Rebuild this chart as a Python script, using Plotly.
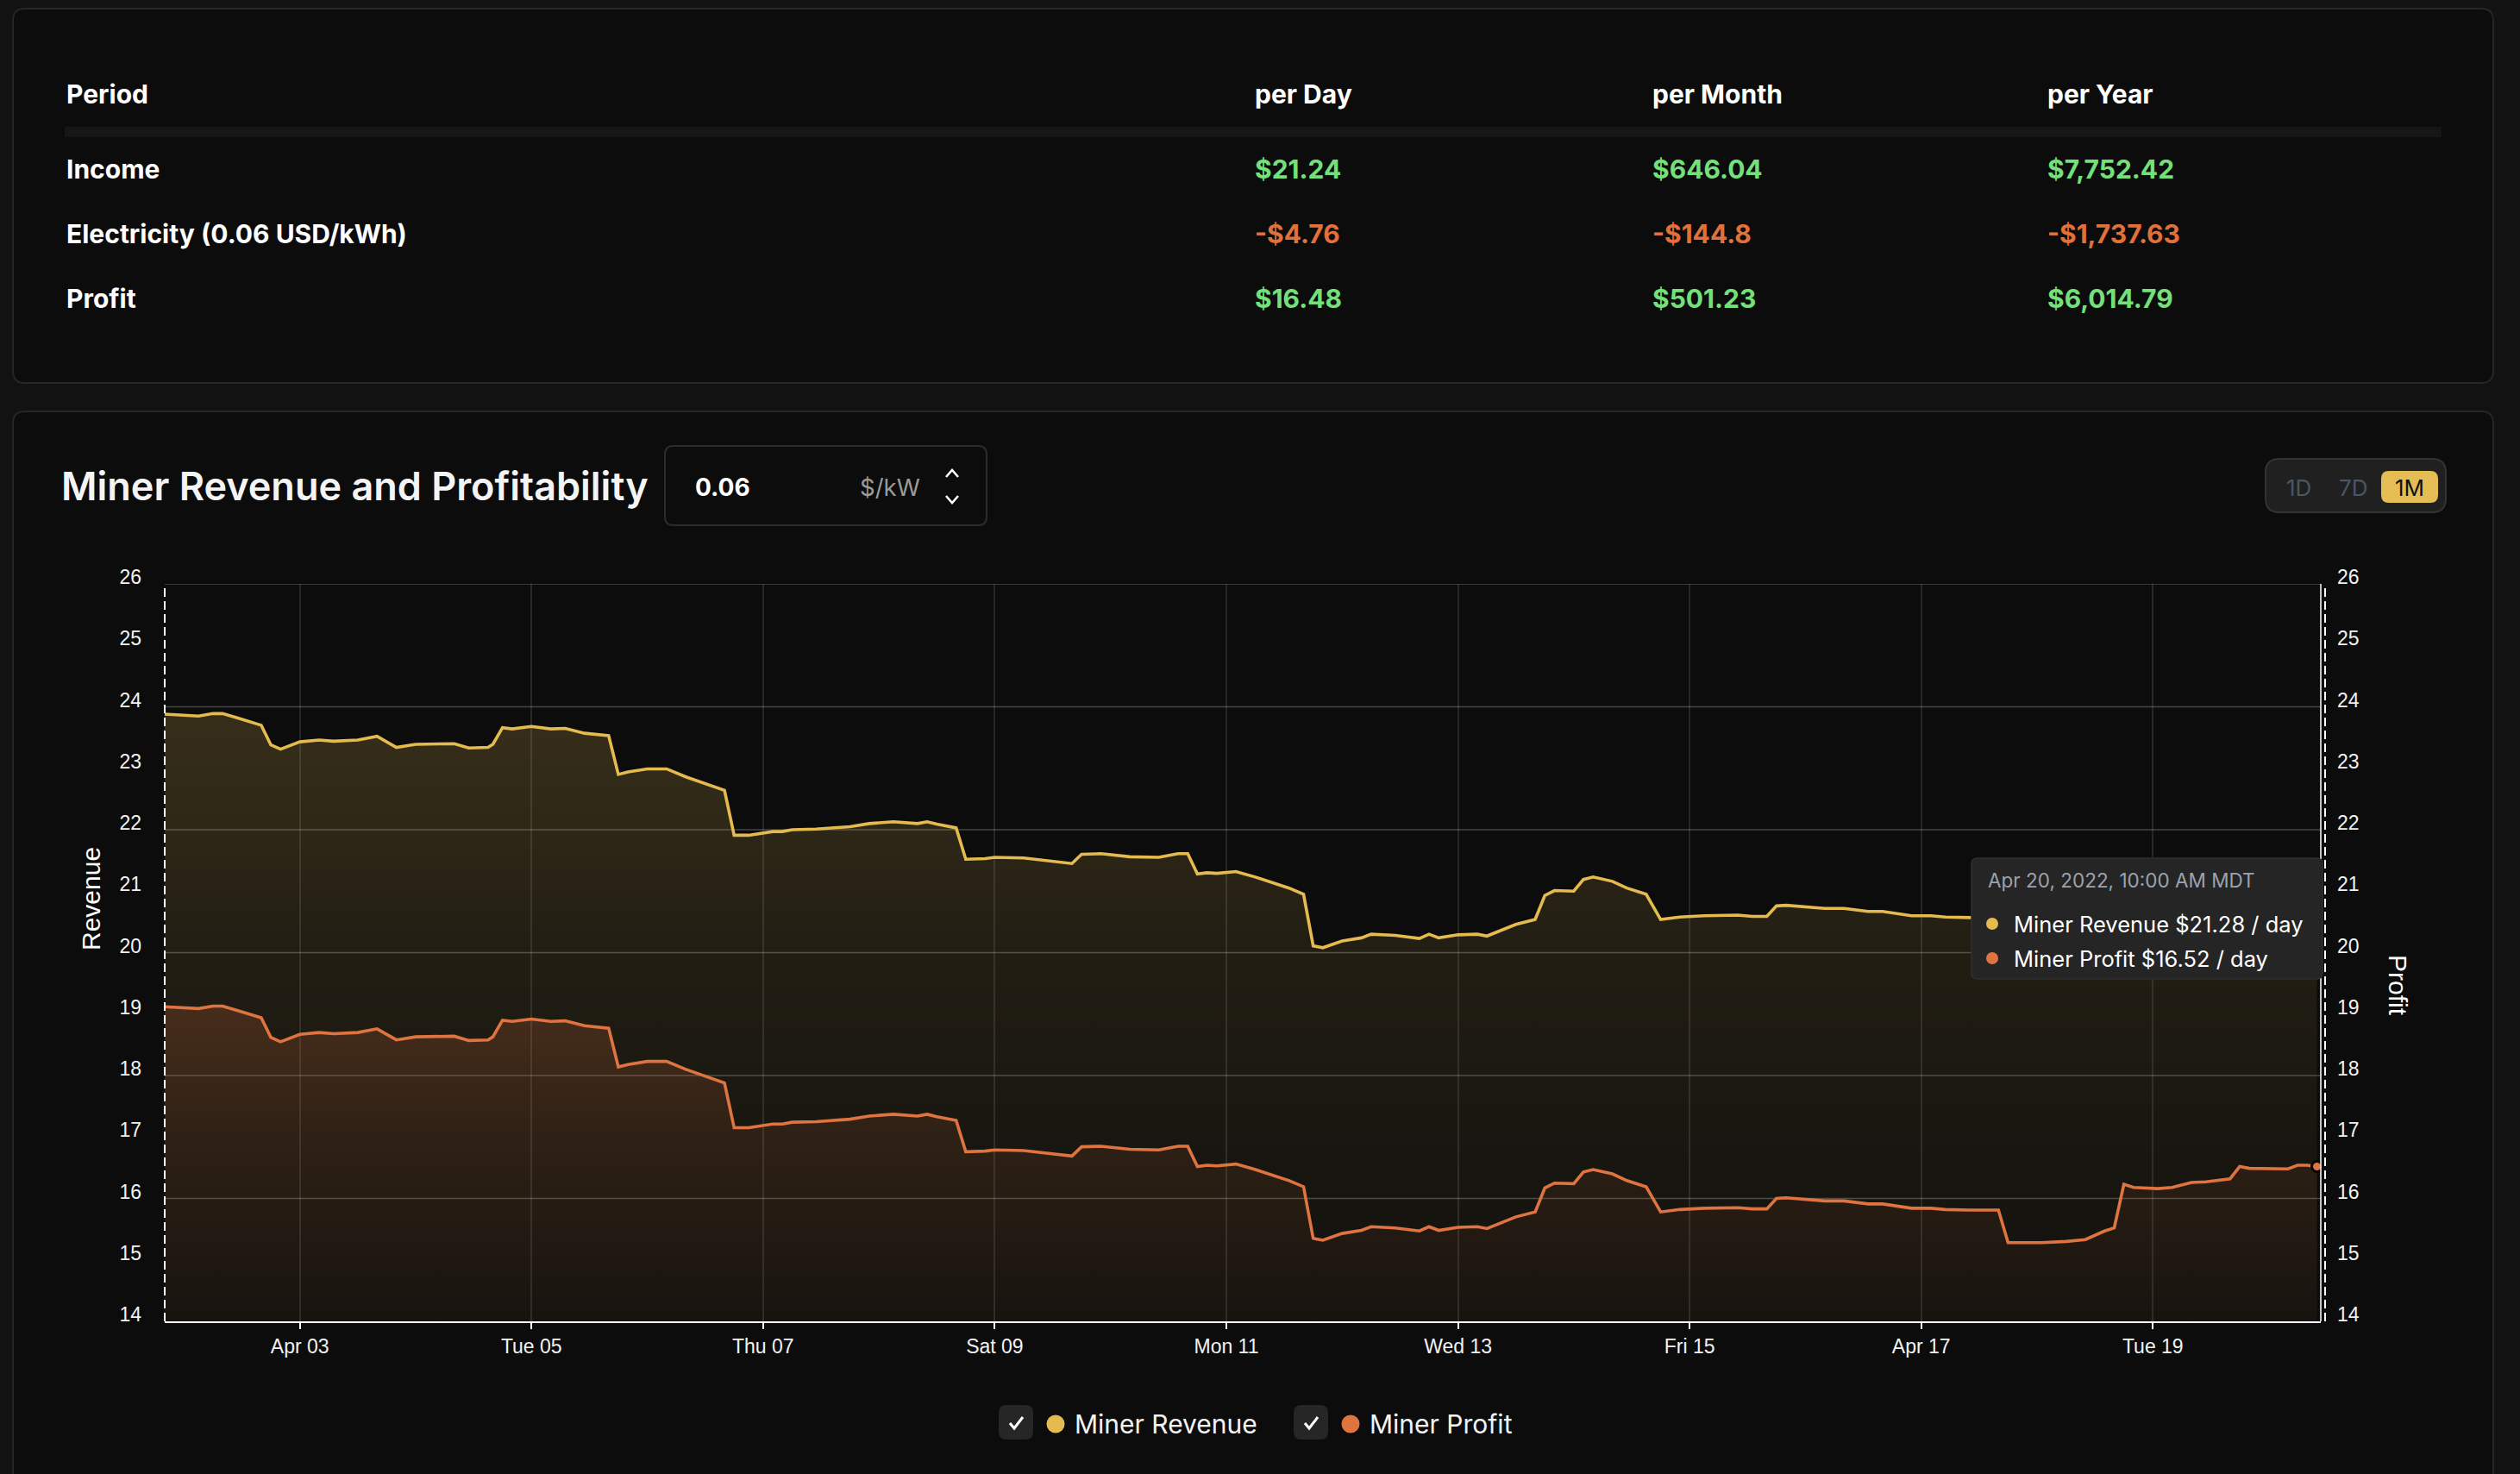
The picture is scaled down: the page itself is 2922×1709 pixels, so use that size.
import plotly.graph_objects as go
import pandas as pd

# ---------------- data ----------------
times = [
    "2022-04-01 20:00", "2022-04-02 03:00", "2022-04-02 06:00", "2022-04-02 08:00", "2022-04-02 11:00", "2022-04-02 16:00", "2022-04-02 18:00", "2022-04-02 20:00",
    "2022-04-03 00:00", "2022-04-03 04:00", "2022-04-03 07:00", "2022-04-03 12:00", "2022-04-03 16:00", "2022-04-03 20:00",
    "2022-04-04 00:00", "2022-04-04 05:00", "2022-04-04 08:00", "2022-04-04 11:00", "2022-04-04 15:00", "2022-04-04 16:00", "2022-04-04 18:00", "2022-04-04 20:00",
    "2022-04-05 00:00", "2022-04-05 04:00", "2022-04-05 07:00", "2022-04-05 11:00", "2022-04-05 16:00", "2022-04-05 18:00", "2022-04-05 20:00",
    "2022-04-06 00:00", "2022-04-06 04:00", "2022-04-06 08:00", "2022-04-06 12:00", "2022-04-06 16:00", "2022-04-06 18:00", "2022-04-06 21:00",
    "2022-04-07 02:00", "2022-04-07 04:00", "2022-04-07 06:00", "2022-04-07 11:00", "2022-04-07 18:00", "2022-04-07 22:00",
    "2022-04-08 03:00", "2022-04-08 08:00", "2022-04-08 10:00", "2022-04-08 12:00", "2022-04-08 16:00", "2022-04-08 18:00", "2022-04-08 22:00",
    "2022-04-09 00:00", "2022-04-09 06:00", "2022-04-09 10:00", "2022-04-09 16:00", "2022-04-09 18:00", "2022-04-09 22:00",
    "2022-04-10 04:00", "2022-04-10 10:00", "2022-04-10 14:00", "2022-04-10 16:00", "2022-04-10 18:00", "2022-04-10 20:00", "2022-04-10 22:00",
    "2022-04-11 02:00", "2022-04-11 06:00", "2022-04-11 11:00", "2022-04-11 13:00", "2022-04-11 16:00", "2022-04-11 18:00", "2022-04-11 20:00",
    "2022-04-12 00:00", "2022-04-12 04:00", "2022-04-12 06:00", "2022-04-12 11:00", "2022-04-12 15:00", "2022-04-12 16:00", "2022-04-12 18:00", "2022-04-12 20:00",
    "2022-04-13 00:00", "2022-04-13 04:00", "2022-04-13 06:00", "2022-04-13 12:00", "2022-04-13 16:00", "2022-04-13 18:00", "2022-04-13 20:00",
    "2022-04-14 00:00", "2022-04-14 02:00", "2022-04-14 04:00", "2022-04-14 08:00", "2022-04-14 11:00", "2022-04-14 15:00", "2022-04-14 18:00", "2022-04-14 22:00",
    "2022-04-15 03:00", "2022-04-15 10:00", "2022-04-15 13:00", "2022-04-15 16:00", "2022-04-15 18:00", "2022-04-15 20:00",
    "2022-04-16 04:00", "2022-04-16 08:00", "2022-04-16 13:00", "2022-04-16 16:00", "2022-04-16 22:00",
    "2022-04-17 02:00", "2022-04-17 05:00", "2022-04-17 10:00", "2022-04-17 16:00", "2022-04-17 18:00",
    "2022-04-18 01:00", "2022-04-18 06:00", "2022-04-18 10:00", "2022-04-18 14:00", "2022-04-18 16:00", "2022-04-18 18:00", "2022-04-18 20:00",
    "2022-04-19 01:00", "2022-04-19 04:00", "2022-04-19 08:00", "2022-04-19 11:00", "2022-04-19 16:00", "2022-04-19 18:00", "2022-04-19 20:00",
    "2022-04-20 00:00", "2022-04-20 04:00", "2022-04-20 06:00", "2022-04-20 08:00", "2022-04-20 10:00",
]

miner_revenue = [
    23.88, 23.85, 23.89, 23.89, 23.82, 23.70, 23.38, 23.31,
    23.43, 23.46, 23.44, 23.46, 23.52, 23.34,
    23.39, 23.39, 23.40, 23.33, 23.34, 23.39, 23.66, 23.64,
    23.68, 23.64, 23.65, 23.57, 23.53, 22.90, 22.94,
    22.99, 22.99, 22.86, 22.75, 22.64, 21.91, 21.91,
    21.97, 21.97, 22.00, 22.01, 22.05, 22.10,
    22.13, 22.10, 22.13, 22.09, 22.03, 21.52, 21.53,
    21.55, 21.54, 21.50, 21.45, 21.60, 21.61,
    21.56, 21.55, 21.61, 21.61, 21.28, 21.30, 21.29,
    21.32, 21.23, 21.11, 21.05, 20.95, 20.11, 20.08,
    20.19, 20.24, 20.30, 20.28, 20.23, 20.23, 20.30, 20.24,
    20.29, 20.30, 20.27, 20.46, 20.54, 20.93, 21.01,
    21.00, 21.19, 21.23, 21.16, 21.05, 20.95, 20.54, 20.58,
    20.60, 20.61, 20.59, 20.59, 20.76, 20.77,
    20.72, 20.72, 20.67, 20.67, 20.60,
    20.60, 20.58, 20.57, 20.57, 20.04,
    20.04, 20.06, 20.09, 20.23, 20.28, 20.99, 20.94,
    20.92, 20.94, 21.02, 21.03, 21.08, 21.28, 21.25,
    21.24, 21.24, 21.30, 21.30, 21.28,
]

miner_profit = [
    19.12, 19.09, 19.13, 19.13, 19.06, 18.94, 18.62, 18.55,
    18.67, 18.70, 18.68, 18.70, 18.76, 18.58,
    18.63, 18.63, 18.64, 18.57, 18.58, 18.63, 18.90, 18.88,
    18.92, 18.88, 18.89, 18.81, 18.77, 18.14, 18.18,
    18.23, 18.23, 18.10, 17.99, 17.88, 17.15, 17.15,
    17.21, 17.21, 17.24, 17.25, 17.29, 17.34,
    17.37, 17.34, 17.37, 17.33, 17.27, 16.76, 16.77,
    16.79, 16.78, 16.74, 16.69, 16.84, 16.85,
    16.80, 16.79, 16.85, 16.85, 16.52, 16.54, 16.53,
    16.56, 16.47, 16.35, 16.29, 16.19, 15.35, 15.32,
    15.43, 15.48, 15.54, 15.52, 15.47, 15.47, 15.54, 15.48,
    15.53, 15.54, 15.51, 15.70, 15.78, 16.17, 16.25,
    16.24, 16.43, 16.47, 16.40, 16.29, 16.19, 15.78, 15.82,
    15.84, 15.85, 15.83, 15.83, 16.00, 16.01,
    15.96, 15.96, 15.91, 15.91, 15.84,
    15.84, 15.82, 15.81, 15.81, 15.28,
    15.28, 15.30, 15.33, 15.47, 15.52, 16.23, 16.18,
    16.16, 16.18, 16.26, 16.27, 16.32, 16.52, 16.49,
    16.48, 16.48, 16.54, 16.54, 16.52,
]

x_tick_dates = ["2022-04-03", "2022-04-05", "2022-04-07", "2022-04-09", "2022-04-11",
                "2022-04-13", "2022-04-15", "2022-04-17", "2022-04-19"]
x_tick_labels = ["Apr 03", "Tue 05", "Thu 07", "Sat 09", "Mon 11", "Wed 13", "Fri 15", "Apr 17", "Tue 19"]
y_range = [14, 26]
y_grid_values = [16, 18, 20, 22, 24, 26]

table_columns = ["Period", "per Day", "per Month", "per Year"]
table_rows = ["Income", "Electricity (0.06 USD/kWh)", "Profit"]
table_values = [
    ["$21.24", "$646.04", "$7,752.42"],
    ["-$4.76", "-$144.8", "-$1,737.63"],
    ["$16.48", "$501.23", "$6,014.79"],
]
tooltip_time = "Apr 20, 2022, 10:00 AM MDT"
series_names = ["Miner Revenue", "Miner Profit"]

# ---------------- styling helpers ----------------
W, H = 2922, 1709
PL, PR, PT, PB = 191, 2691, 677, 1532
YEL = "#e5ba4f"
ORA = "#df7440"
GREEN = "#74e07a"
NEG = "#e2703a"
INTER = "Inter, Noto Sans, sans-serif"
ARIAL = "Liberation Sans, Arial, sans-serif"


def X(px):
    return (px - PL) / (PR - PL)


def Y(py):
    return (PB - py) / (PB - PT)


def rrect(x0, y0, x1, y1, r):
    return (f"M {X(x0 + r)},{Y(y0)} L {X(x1 - r)},{Y(y0)} Q {X(x1)},{Y(y0)} {X(x1)},{Y(y0 + r)} "
            f"L {X(x1)},{Y(y1 - r)} Q {X(x1)},{Y(y1)} {X(x1 - r)},{Y(y1)} "
            f"L {X(x0 + r)},{Y(y1)} Q {X(x0)},{Y(y1)} {X(x0)},{Y(y1 - r)} "
            f"L {X(x0)},{Y(y0 + r)} Q {X(x0)},{Y(y0)} {X(x0 + r)},{Y(y0)} Z")


def poly(pts):
    return "M " + " L ".join(f"{X(a)},{Y(b)}" for a, b in pts)


shapes = []
annotations = []


def pshape(path, fill=None, line=None, width=2, layer="below", dash=None):
    d = dict(type="path", path=path, xref="paper", yref="paper", layer=layer,
             fillcolor=fill if fill else "rgba(0,0,0,0)",
             line=dict(color=line if line else "rgba(0,0,0,0)", width=width if line else 0))
    if dash:
        d["line"]["dash"] = dash
    shapes.append(d)


def circle(cx, cy, r, color, layer="above"):
    shapes.append(dict(type="circle", xref="paper", yref="paper", layer=layer,
                       x0=X(cx - r), x1=X(cx + r), y0=Y(cy + r), y1=Y(cy - r),
                       fillcolor=color, line=dict(width=0)))


def text(s, px, py, size, color="#ffffff", family=INTER, weight="normal", xanchor="left", angle=0):
    annotations.append(dict(text=s, x=X(px), y=Y(py), xref="paper", yref="paper", showarrow=False,
                            xanchor=xanchor, yanchor="middle", textangle=angle,
                            font=dict(size=size, color=color, family=family, weight=weight)))


# cards
pshape(rrect(15, 10, 2891, 444, 14), fill="#0c0c0c", line="#262626", width=2)
pshape(rrect(15, 477, 2891, 1760, 14), fill="#0c0c0c", line="#262626", width=2)

# table
pshape(poly([(75, 147), (2831, 147), (2831, 159), (75, 159)]) + " Z", fill="#161616")
col_x = [75, 1453, 1914, 2372]
for cx, name in zip(col_x, table_columns):
    text(name, cx, 109, 30, "#ffffff", weight="bold")
row_y = [196, 271, 346]
for ry, rname, vals in zip(row_y, table_rows, table_values):
    text(rname, col_x[0], ry, 30, "#ffffff", weight="bold")
    for cx, v in zip(col_x[1:], vals):
        text(v, cx, ry, 30, NEG if v.startswith("-") else GREEN, weight="bold")

# chart header
text("Miner Revenue and Profitability", 69, 563, 45, "#f4f4f5", weight=600)
pshape(rrect(771, 517, 1144, 609, 10), line="#2c2c2c", width=2)
text("0.06", 804, 565, 28, "#ffffff", weight="bold")
text("$/kW", 995, 565, 27.5, "#9b9b9b")
pshape(poly([(1097, 553), (1104, 545), (1111, 553)]), line="#ffffff", width=2.5)
pshape(poly([(1097, 575), (1104, 583), (1111, 575)]), line="#ffffff", width=2.5)

# range buttons
pshape(rrect(2627, 532, 2836, 594, 16), fill="#202020", line="#333333", width=2)
pshape(rrect(2761, 546, 2827, 583, 9), fill="#e4be55")
text("1D", 2665, 565, 26, "#4b5563", xanchor="center")
text("7D", 2728, 565, 26, "#4b5563", xanchor="center")
text("1M", 2794, 565, 26, "#111111", xanchor="center")

# horizontal grid lines (every 2 units)
for gv in y_grid_values:
    shapes.append(dict(type="line", xref="paper", yref="y", x0=0, x1=1, y0=gv, y1=gv, layer="below",
                       line=dict(color="rgba(255,255,255,0.24)", width=1.5)))

# axis decorations
shapes.append(dict(type="line", xref="paper", yref="paper", x0=0, x1=0, y0=0, y1=1, layer="above",
                   line=dict(color="#ffffff", width=2, dash="10px,5px")))
shapes.append(dict(type="line", xref="paper", yref="paper", x0=1, x1=1, y0=0, y1=1, layer="above",
                   line=dict(color="#ffffff", width=1.5)))
shapes.append(dict(type="line", xref="paper", yref="paper", x0=X(2696), x1=X(2696), y0=0, y1=1, layer="above",
                   line=dict(color="#ffffff", width=2, dash="10px,5px")))

# axis titles
text("Revenue", 105, 1042, 30, "#ffffff", family=ARIAL, xanchor="center", angle=-90)
text("Profit", 2781, 1142, 30, "#ffffff", family=ARIAL, xanchor="center", angle=90)

# tooltip
pshape(rrect(2286, 995, 2693, 1135, 7), fill="#252525", line="#2f2f2f", width=1.5, layer="above")
text(tooltip_time, 2303, 1020, 22.5, "#9ca3af")
circle(2310, 1071, 7, YEL)
circle(2310, 1111, 7, ORA)
text(f"{series_names[0]} ${miner_revenue[-1]:.2f} / day", 2333, 1071, 25.5, "#ffffff")
text(f"{series_names[1]} ${miner_profit[-1]:.2f} / day", 2333, 1111, 25.5, "#ffffff")

# legend
for bx, dcx, tx, name, col in [(1158, 1224, 1244, series_names[0], YEL), (1500, 1566, 1586, series_names[1], ORA)]:
    pshape(rrect(bx, 1629, bx + 40, 1669, 9), fill="#262626", layer="above")
    pshape(poly([(bx + 13, 1650), (bx + 18, 1656), (bx + 28, 1643)]), line="#ffffff", width=3, layer="above")
    circle(dcx, 1651, 10.5, col)
    text(name, tx, 1651, 30, "#f4f4f5")

# ---------------- traces ----------------
fig = go.Figure()
fig.add_trace(go.Scatter(
    x=times, y=miner_revenue, name=series_names[0], mode="lines",
    line=dict(color=YEL, width=3.6), fill="tozeroy",
    fillgradient=dict(type="vertical", start=14, stop=24,
                      colorscale=[[0, "rgba(226,186,80,0.03)"], [0.3, "rgba(226,186,80,0.06)"],
                                  [0.6, "rgba(226,186,80,0.10)"], [0.8, "rgba(226,186,80,0.155)"],
                                  [1, "rgba(226,186,80,0.2)"]]),
    yaxis="y"))
fig.add_trace(go.Scatter(
    x=times, y=miner_profit, name=series_names[1], mode="lines",
    line=dict(color=ORA, width=3.6), fill="tozeroy",
    fillgradient=dict(type="vertical", start=14, stop=19.2,
                      colorscale=[[0, "rgba(222,112,60,0.02)"], [0.19, "rgba(222,112,60,0.05)"],
                                  [0.58, "rgba(222,112,60,0.11)"], [0.96, "rgba(222,112,60,0.2)"],
                                  [1, "rgba(222,112,60,0.21)"]]),
    yaxis="y2"))
fig.add_trace(go.Scatter(x=[times[-1]], y=[miner_revenue[-1]], mode="markers", yaxis="y",
                         marker=dict(size=12, color=YEL, line=dict(color="#000000", width=3))))
fig.add_trace(go.Scatter(x=[times[-1]], y=[miner_profit[-1]], mode="markers", yaxis="y2",
                         marker=dict(size=12, color=ORA, line=dict(color="#000000", width=3))))

x_end = pd.Timestamp(times[-1]) + pd.Timedelta(minutes=48)
tickfont = dict(family=ARIAL, size=23, color="#f2f2f2")

fig.update_layout(
    width=W, height=H,
    margin=dict(l=PL, r=W - PR, t=PT, b=H - PB, pad=0),
    paper_bgcolor="#121212", plot_bgcolor="rgba(0,0,0,0)",
    showlegend=False, hovermode=False,
    shapes=shapes, annotations=annotations,
    xaxis=dict(type="date", range=[times[0], x_end.strftime("%Y-%m-%d %H:%M")],
               tickvals=x_tick_dates, ticktext=x_tick_labels,
               showgrid=True, gridcolor="rgba(255,255,255,0.11)", gridwidth=1.5,
               showline=True, linecolor="#ffffff", linewidth=2,
               ticks="outside", ticklen=7, tickwidth=2, tickcolor="#ffffff",
               tickfont=tickfont, zeroline=False, fixedrange=True),
    yaxis=dict(range=y_range, dtick=1, tick0=14, showgrid=False, zeroline=False, showline=False,
               ticks="", tickfont=tickfont, ticklabelstandoff=26, ticklabelshift=-8, fixedrange=True),
    yaxis2=dict(range=y_range, dtick=1, tick0=14, overlaying="y", side="right", showgrid=False,
                zeroline=False, showline=False, ticks="", tickfont=tickfont,
                ticklabelstandoff=18, ticklabelshift=-8, fixedrange=True),
)

fig.write_html("out.html", include_plotlyjs=True, full_html=True,
               config={"displayModeBar": False, "responsive": False},
               post_script="document.body.style.margin='0px';document.body.style.overflow='hidden';document.body.style.background='#121212';")
